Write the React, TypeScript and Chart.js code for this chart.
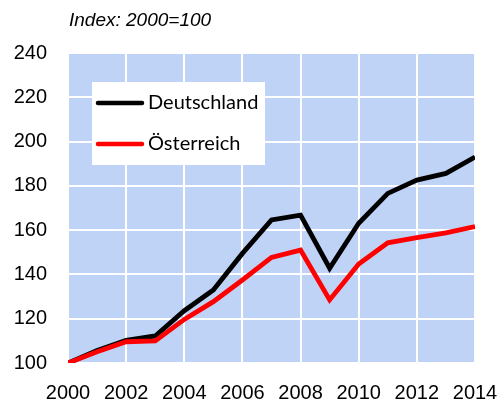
import React, { useEffect, useRef } from "react";
import { Chart, registerables } from "chart.js";

Chart.register(...registerables);

const years = [2000, 2001, 2002, 2003, 2004, 2005, 2006, 2007, 2008, 2009, 2010, 2011, 2012, 2013, 2014];
const deutschland = [100, 105.6, 110.2, 112.2, 123.6, 133, 149.5, 164.6, 166.8, 142.8, 163.1, 176.6, 182.6, 185.6, 193];
const oesterreich = [100, 105.1, 109.6, 110, 119.7, 127.7, 137.5, 147.7, 151, 128.5, 144.7, 154.3, 156.6, 158.8, 161.6];
const seriesNames = ["Deutschland", "Österreich"];
const titleText = "Index: 2000=100";

const BG = "#BFD3F7";
const TICK_FONT = "Liberation Sans, Arial, sans-serif";

export default function App() {
  const ref = useRef<HTMLCanvasElement>(null);
  useEffect(() => {
    document.body.style.margin = "0";
    const canvas = ref.current!;
    const bgPlugin = {
      id: "bgPlugin",
      beforeDraw(chart: any) {
        const { ctx, chartArea } = chart;
        ctx.save();
        ctx.fillStyle = "#ffffff";
        ctx.fillRect(0, 0, chart.width, chart.height);
        ctx.fillStyle = BG;
        ctx.fillRect(chartArea.left, chartArea.top, chartArea.right - chartArea.left, chartArea.bottom - chartArea.top);
        ctx.restore();
      },
      afterDraw(chart: any) {
        const { ctx } = chart;
        ctx.save();
        ctx.fillStyle = "#000";
        ctx.font = "italic 19px 'Liberation Sans', Arial, sans-serif";
        ctx.textBaseline = "middle";
        ctx.textAlign = "left";
        ctx.fillText(titleText, 69, 21);
        ctx.fillStyle = "#ffffff";
        ctx.fillRect(92, 82, 173, 83);
        const items = [
          { name: seriesNames[0], color: "#000000", y: 103 },
          { name: seriesNames[1], color: "#ff0000", y: 144 },
        ];
        for (const it of items) {
          ctx.strokeStyle = it.color;
          ctx.lineWidth = 4.5;
          ctx.lineCap = "round";
          ctx.beginPath();
          ctx.moveTo(98, it.y);
          ctx.lineTo(142, it.y);
          ctx.stroke();
          ctx.fillStyle = "#000";
          ctx.font = "20px Lato, sans-serif";
          ctx.textBaseline = "middle";
          ctx.fillText(it.name, 148, it.y);
        }
        ctx.restore();
      },
    };
    const chart = new Chart(canvas, {
      type: "line",
      data: {
        datasets: [
          {
            label: seriesNames[0],
            data: years.map((y, i) => ({ x: y, y: deutschland[i] })),
            borderColor: "#000000",
            borderWidth: 4.8,
            pointRadius: 0,
            tension: 0,
            order: 2,
          },
          {
            label: seriesNames[1],
            data: years.map((y, i) => ({ x: y, y: oesterreich[i] })),
            borderColor: "#ff0000",
            borderWidth: 4.8,
            pointRadius: 0,
            tension: 0,
            order: 1,
          },
        ],
      },
      options: {
        responsive: false,
        animation: false,
        layout: { padding: { top: 53, right: 27, left: 0, bottom: 0 } },
        plugins: { legend: { display: false }, tooltip: { enabled: false }, title: { display: false } },
        scales: {
          x: {
            type: "linear",
            min: 2000,
            max: 2014,
            ticks: {
              stepSize: 2,
              color: "#000",
              font: { size: 20, family: TICK_FONT },
              padding: 18,
              maxRotation: 0,
              callback: (v: any) => String(v),
            },
            grid: { color: "#ffffff", lineWidth: 2, drawTicks: false },
            border: { display: false },
            afterFit: (s: any) => { s.height = 37; s.paddingLeft = 0; s.paddingRight = 0; },
          },
          y: {
            min: 100,
            max: 240,
            ticks: {
              stepSize: 20,
              color: "#000",
              font: { size: 20, family: TICK_FONT },
              padding: 21,
            },
            grid: { color: "#ffffff", lineWidth: 2, drawTicks: false },
            border: { display: false },
            afterFit: (s: any) => { s.width = 68; s.paddingTop = 0; s.paddingBottom = 0; },
          },
        },
      },
      plugins: [bgPlugin],
    });
    return () => chart.destroy();
  }, []);
  return (
    <div style={{ width: 502, height: 400 }}>
      <canvas ref={ref} width={502} height={400} />
    </div>
  );
}
